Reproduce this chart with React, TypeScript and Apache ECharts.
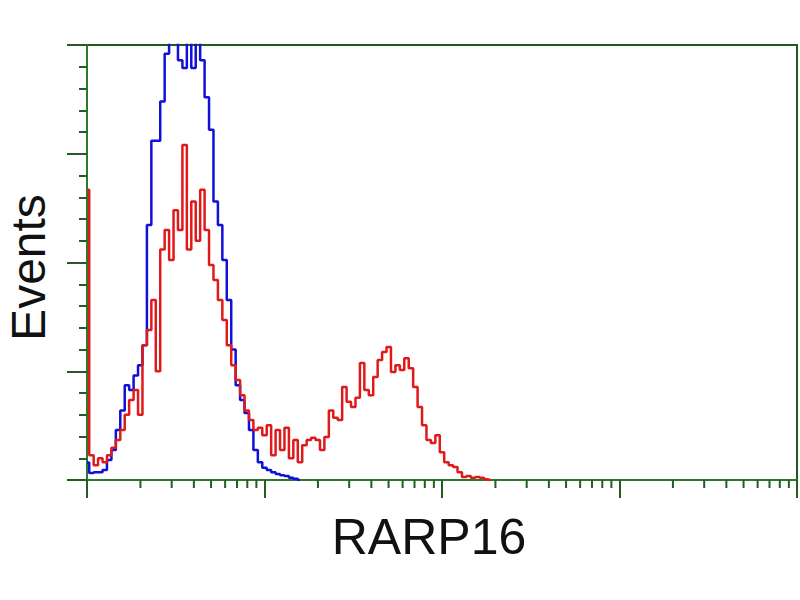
import React, { useEffect, useRef } from "react";
import * as echarts from "echarts";

// log10 channel step between histogram bins (4 decades on the x axis)
const BIN = 0.025;
const decades = [0, 1, 2, 3];
const minorMultipliers = [2, 3, 4, 5, 6, 7, 8, 9];

// Blue histogram (control), events in % of full scale
const blueCounts = [
  4, 1.6, 1.8, 1.8, 2.3, 4.6, 6.9, 11.5, 16, 21.8,
  20.7, 24, 26.4, 31, 58.6, 78, 78, 87, 98, 103,
  101, 96.5, 94.7, 102, 94.7, 101, 96.5, 88, 80.5, 64,
  58.6, 50.6, 41.4, 30, 21.8, 18.4, 15.4, 11.5, 6.9, 4.1,
  2.8, 2.3, 1.8, 1.4, 1.1, 0.9, 0.5, 0.3, 0,
];

// Red histogram (RARP16 stained)
const redCounts = [
  66.7, 5.7, 3.4, 5, 4.1, 5.7, 7.4, 9.2, 11.5, 15,
  18.4, 20.7, 15, 31, 34.5, 41.4, 25, 53, 57.5, 50.6,
  62, 57.5, 77, 53, 64, 55, 66.7, 57.5, 49.4, 46,
  41.4, 36.8, 31, 26.4, 23, 19.5, 16, 13.8, 11.5, 12,
  10.3, 12.6, 5.7, 11.5, 6.9, 12, 5, 9.2, 4.1, 8,
  9.2, 9.7, 9.2, 6.9, 9.9, 16, 14.3, 13.8, 21.4, 18,
  16.8, 18.9, 26.9, 20.7, 19.5, 23.7, 27.6, 29.4, 30.6, 24.8,
  26.4, 25.3, 28, 25.7, 21.4, 16.8, 12.6, 9.2, 8.5, 10.3,
  6.4, 4.1, 3.4, 3, 1.8, 0.7, 0.9, 0.5, 0.7, 0.5,
  0.2, 0,
];

const xTitle = "RARP16";
const yTitle = "Events";

const AXIS_GREEN = "#2b7a2b";
const TICK_GREEN = "#245c24";

export default function App() {
  const ref = useRef<HTMLDivElement>(null);

  useEffect(() => {
    if (!ref.current) return;
    const chart = echarts.init(ref.current, undefined, { renderer: "svg" });

    const toPairs = (arr: number[]) => arr.map((v, i) => [i * BIN, v]);
    const minorTicks: number[][] = [];
    decades.forEach((d) =>
      minorMultipliers.forEach((k) => minorTicks.push([d + Math.log10(k), 0]))
    );

    chart.setOption({
      animation: false,
      backgroundColor: "#ffffff",
      grid: {
        left: 87,
        right: 3,
        top: 45,
        bottom: 120,
        show: true,
        containLabel: false,
        outerBoundsMode: "none",
        borderColor: "#1f5a1f",
        borderWidth: 2,
        backgroundColor: "transparent",
      },
      xAxis: {
        type: "value",
        min: 0,
        max: 4,
        interval: 1,
        name: xTitle,
        nameLocation: "middle",
        nameGap: 32,
        nameTextStyle: {
          fontFamily: "Liberation Sans, Arial, sans-serif",
          fontSize: 50,
          color: "#111111",
          padding: [0, 26, 0, 0],
        },
        axisLine: { show: true, lineStyle: { color: AXIS_GREEN, width: 2 } },
        axisTick: { show: true, length: 18, lineStyle: { color: TICK_GREEN, width: 2 } },
        axisLabel: { show: false },
        splitLine: { show: false },
      },
      yAxis: {
        type: "value",
        min: 0,
        max: 100,
        interval: 25,
        name: yTitle,
        nameLocation: "middle",
        nameRotate: 90,
        nameGap: 38,
        nameTextStyle: {
          fontFamily: "Liberation Sans, Arial, sans-serif",
          fontSize: 48,
          lineHeight: 42,
          color: "#111111",
          padding: [0, 10, 0, 0],
        },
        axisLine: { show: true, lineStyle: { color: AXIS_GREEN, width: 2 } },
        axisTick: { show: true, length: 20, lineStyle: { color: TICK_GREEN, width: 2 } },
        minorTick: { show: true, splitNumber: 5, length: 8, lineStyle: { color: TICK_GREEN, width: 2 } },
        axisLabel: { show: false },
        splitLine: { show: false },
        minorSplitLine: { show: false },
      },
      series: [
        {
          type: "custom",
          silent: true,
          clip: false,
          data: minorTicks,
          encode: { x: 0, y: 1 },
          renderItem: (_params: any, api: any) => {
            const p = api.coord([api.value(0), api.value(1)]);
            return {
              type: "line",
              shape: { x1: p[0], y1: p[1], x2: p[0], y2: p[1] + 8 },
              style: { stroke: TICK_GREEN, lineWidth: 2 },
            };
          },
        },
        {
          type: "line",
          data: toPairs(blueCounts),
          step: "middle",
          showSymbol: false,
          clip: true,
          lineStyle: { color: "#1010d8", width: 2.5 },
          itemStyle: { color: "#1010d8" },
        },
        {
          type: "line",
          data: toPairs(redCounts),
          step: "middle",
          showSymbol: false,
          clip: true,
          lineStyle: { color: "#e01a1a", width: 2.5 },
          itemStyle: { color: "#e01a1a" },
        },
      ],
    });

    return () => chart.dispose();
  }, []);

  return (
    <div
      ref={ref}
      style={{ position: "fixed", left: 0, top: 0, width: 800, height: 600, background: "#fff" }}
    />
  );
}
